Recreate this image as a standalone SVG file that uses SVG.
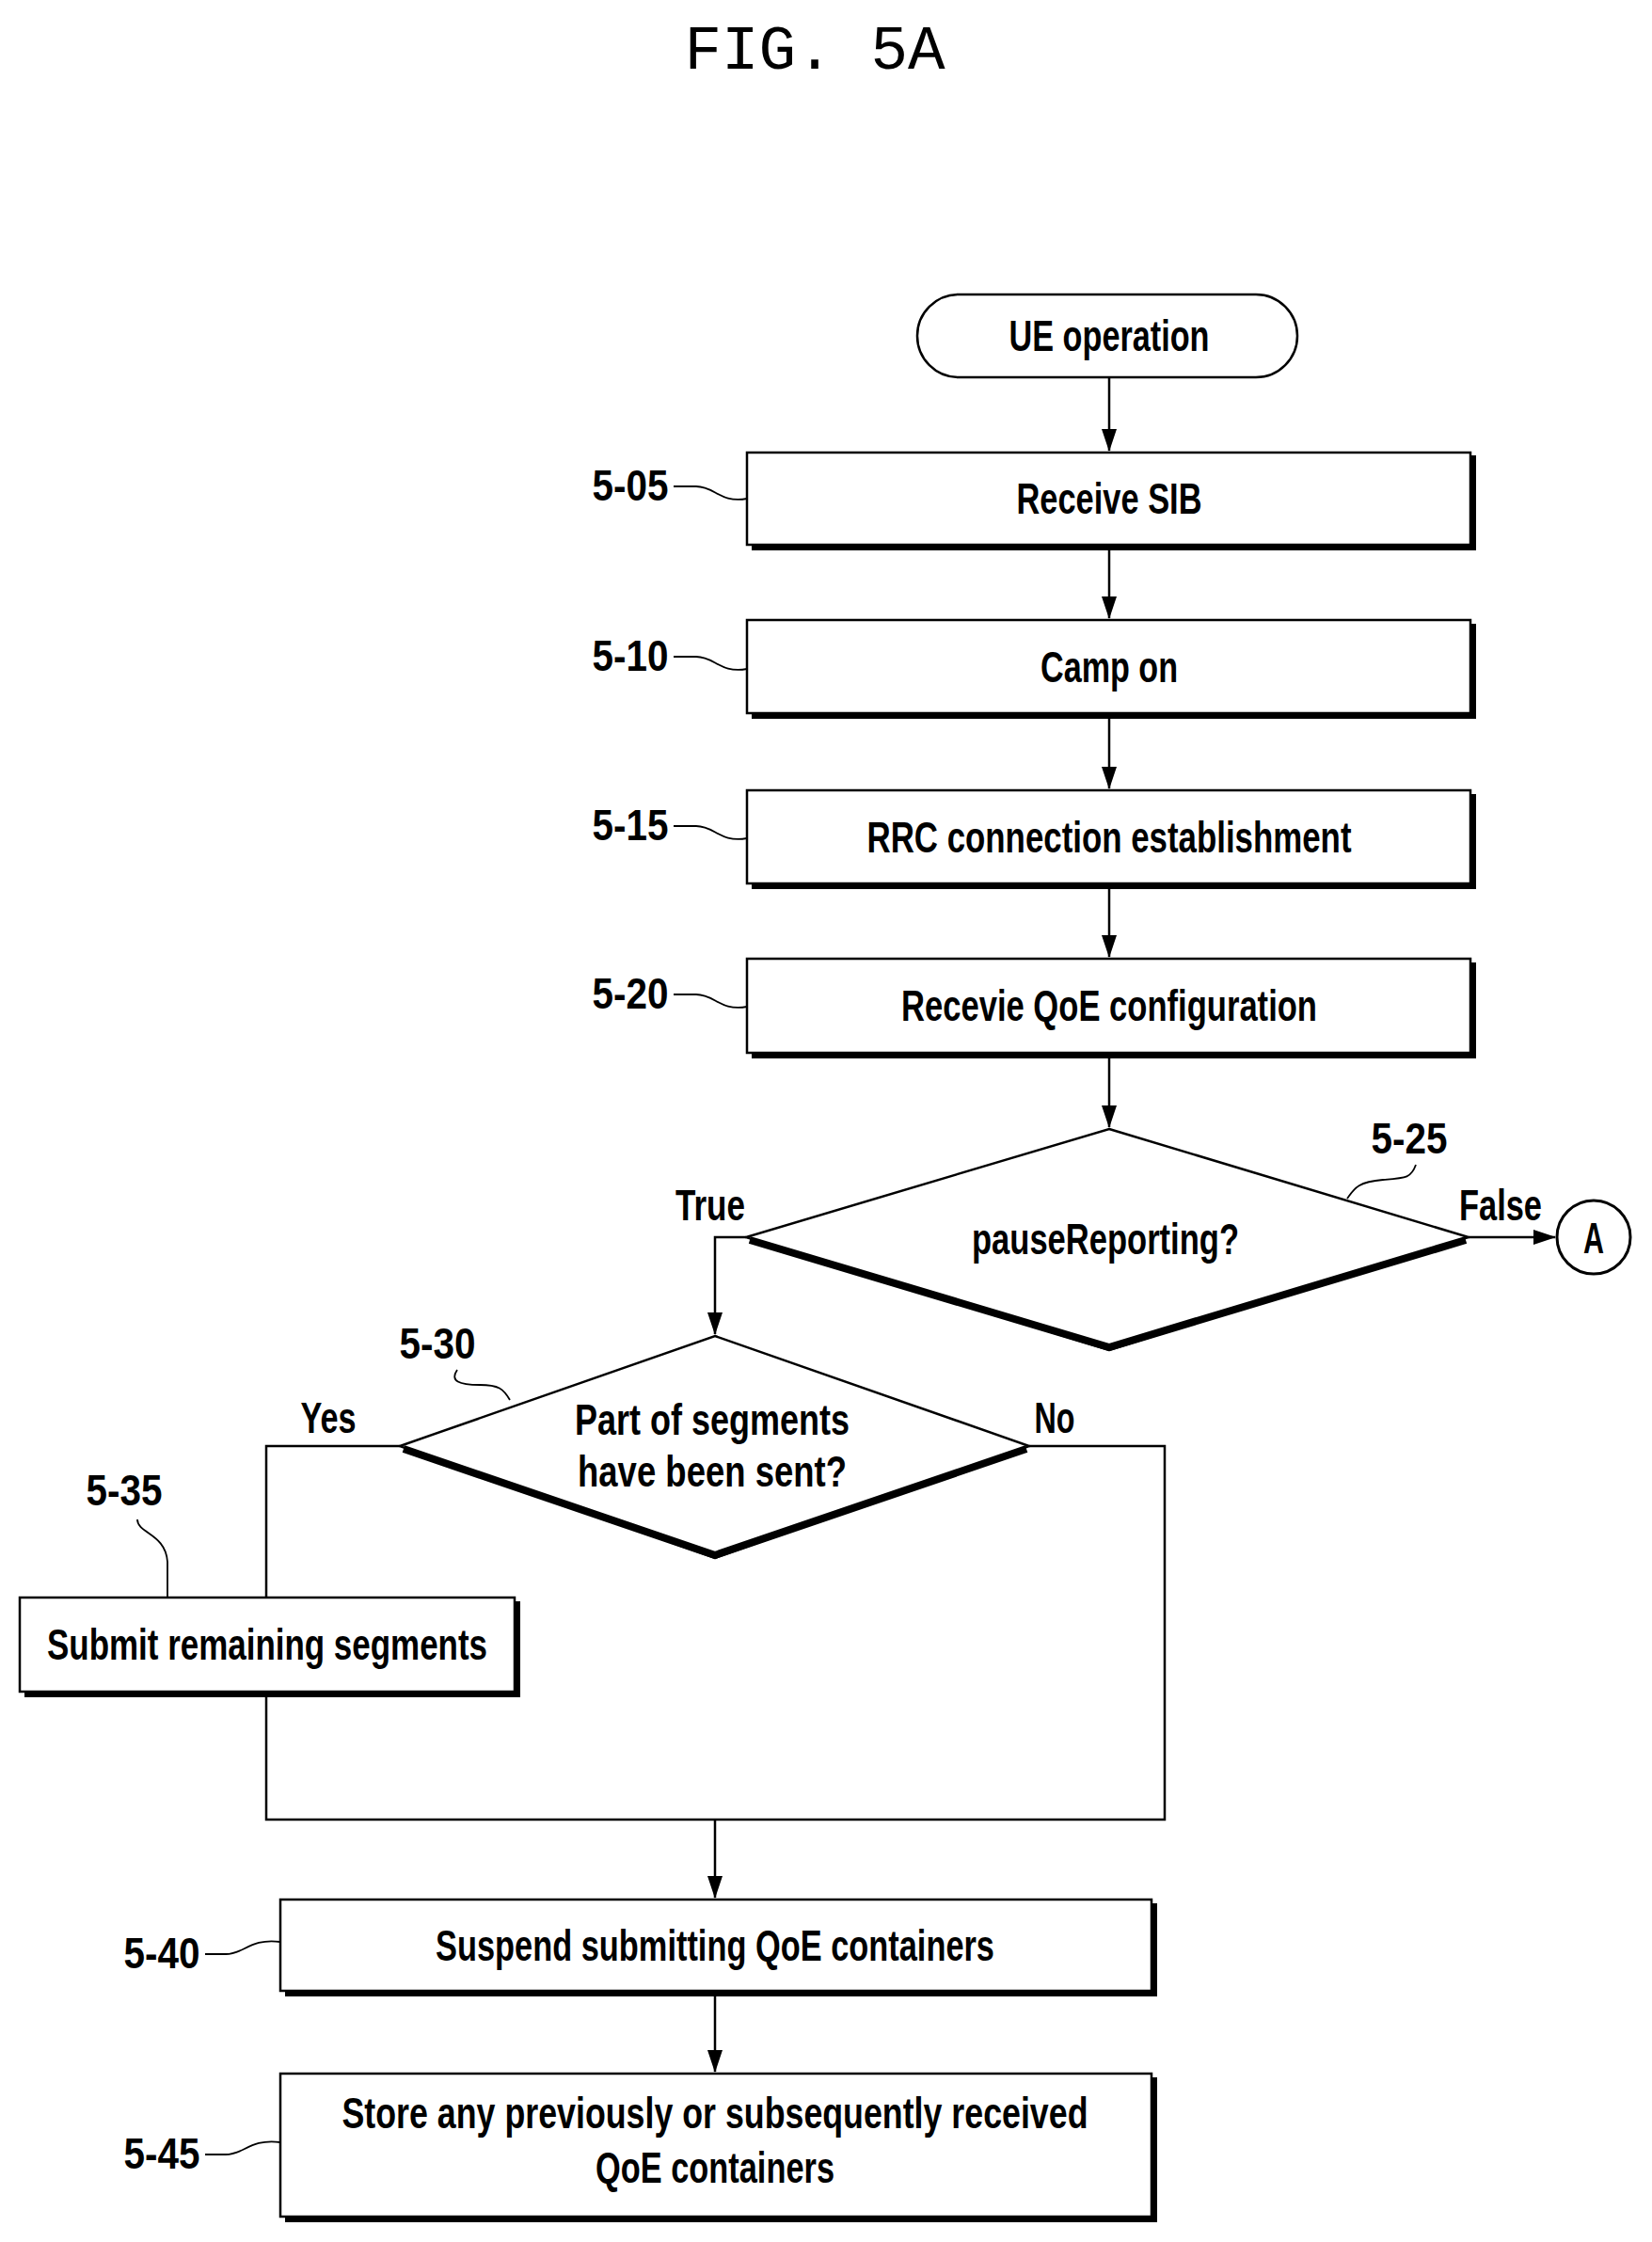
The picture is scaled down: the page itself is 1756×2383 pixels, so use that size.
<svg xmlns="http://www.w3.org/2000/svg" width="1756" height="2383" viewBox="0 0 1756 2383">
<defs>
<marker id="ah" markerWidth="24" markerHeight="16" refX="23" refY="8" orient="auto" markerUnits="userSpaceOnUse" viewBox="0 0 24 16"><path d="M0,0 L24,8 L0,16 z" fill="#000"/></marker>
<style>
.t{font-family:"Liberation Sans",Arial,sans-serif;font-weight:bold;font-size:46px;text-anchor:middle;fill:#000}
.lb{font-family:"Liberation Sans",Arial,sans-serif;font-weight:bold;font-size:46px;text-anchor:middle;fill:#000}
.b{fill:#fff;stroke:#000;stroke-width:2.5}
.sh{fill:none;stroke:#000;stroke-width:6}
.ln{fill:none;stroke:#000;stroke-width:2.5}
.ld{fill:none;stroke:#000;stroke-width:1.8}
</style>
</defs>
<rect width="1756" height="2383" fill="#fff"/>
<text x="866" y="73" style="font-family:'Liberation Mono',monospace;font-size:66px;text-anchor:middle">FIG. 5A</text>

<g id="connectors">
<line class="ln" x1="1179" y1="401" x2="1179" y2="479" marker-end="url(#ah)"/>
<line class="ln" x1="1179" y1="582" x2="1179" y2="657" marker-end="url(#ah)"/>
<line class="ln" x1="1179" y1="761" x2="1179" y2="838" marker-end="url(#ah)"/>
<line class="ln" x1="1179" y1="942" x2="1179" y2="1017" marker-end="url(#ah)"/>
<line class="ln" x1="1179" y1="1122" x2="1179" y2="1198" marker-end="url(#ah)"/>
<line class="ln" x1="1561" y1="1315" x2="1653" y2="1315" marker-end="url(#ah)"/>
<polyline class="ln" points="793,1315 760,1315 760,1418" marker-end="url(#ah)"/>
<polyline class="ln" points="425,1537 283,1537 283,1698"/>
<polyline class="ln" points="283,1801 283,1934 1238,1934 1238,1537 1094,1537"/>
<line class="ln" x1="760" y1="1934" x2="760" y2="2017" marker-end="url(#ah)"/>
<line class="ln" x1="760" y1="2119" x2="760" y2="2202" marker-end="url(#ah)"/>
<text class="lb" x="755" y="1297" textLength="74" lengthAdjust="spacingAndGlyphs">True</text>
<text class="lb" x="1595" y="1297" textLength="88" lengthAdjust="spacingAndGlyphs">False</text>
<text class="lb" x="349" y="1523" textLength="59" lengthAdjust="spacingAndGlyphs">Yes</text>
<text class="lb" x="1121" y="1523" textLength="43" lengthAdjust="spacingAndGlyphs">No</text>
</g>

<g id="start">
<rect class="b" x="975" y="313" width="404" height="88" rx="44" stroke-width="3.5"/>
<text class="t" x="1179" y="373" textLength="213" lengthAdjust="spacingAndGlyphs">UE operation</text>
</g>

<g id="n505">
<polyline class="sh" points="799,582 1566,582 1566,484"/>
<rect class="b" x="794" y="481" width="769" height="98"/>
<text class="t" x="1179" y="546" textLength="197" lengthAdjust="spacingAndGlyphs">Receive SIB</text>
<text class="lb" x="670" y="532" textLength="81" lengthAdjust="spacingAndGlyphs">5-05</text>
<path class="ld" d="M716,517 L740,517 C760,517 765,535 794,530"/>
</g>

<g id="n510">
<polyline class="sh" points="799,761 1566,761 1566,663"/>
<rect class="b" x="794" y="659" width="769" height="99"/>
<text class="t" x="1179" y="725" textLength="146" lengthAdjust="spacingAndGlyphs">Camp on</text>
<text class="lb" x="670" y="713" textLength="81" lengthAdjust="spacingAndGlyphs">5-10</text>
<path class="ld" d="M716,698 L740,698 C760,698 765,716 794,711"/>
</g>

<g id="n515">
<polyline class="sh" points="799,942 1566,942 1566,844"/>
<rect class="b" x="794" y="840" width="769" height="99"/>
<text class="t" x="1179" y="906" textLength="515" lengthAdjust="spacingAndGlyphs">RRC connection establishment</text>
<text class="lb" x="670" y="893" textLength="81" lengthAdjust="spacingAndGlyphs">5-15</text>
<path class="ld" d="M716,878 L740,878 C760,878 765,896 794,891"/>
</g>

<g id="n520">
<polyline class="sh" points="799,1122 1566,1122 1566,1023"/>
<rect class="b" x="794" y="1019" width="769" height="100"/>
<text class="t" x="1179" y="1085" textLength="442" lengthAdjust="spacingAndGlyphs">Recevie QoE configuration</text>
<text class="lb" x="670" y="1072" textLength="81" lengthAdjust="spacingAndGlyphs">5-20</text>
<path class="ld" d="M716,1057 L740,1057 C760,1057 765,1075 794,1070"/>
</g>

<g id="n525">
<polygon class="b" points="1179,1200 1561,1315 1179,1435 793,1315"/>
<polyline fill="none" stroke="#000" stroke-width="8" points="797,1318 1179,1432 1558,1318"/>
<text class="t" x="1175" y="1333" textLength="284" lengthAdjust="spacingAndGlyphs">pauseReporting?</text>
<text class="lb" x="1498" y="1226" textLength="81" lengthAdjust="spacingAndGlyphs">5-25</text>
<path class="ld" d="M1505,1238 C1500,1252 1495,1252 1470,1254 C1445,1256 1440,1262 1432,1274"/>
</g>

<g id="connA">
<circle cx="1694" cy="1315" r="39" fill="#fff" stroke="#000" stroke-width="3"/>
<text class="t" x="1694" y="1332" font-size="40" textLength="22" lengthAdjust="spacingAndGlyphs">A</text>
</g>

<g id="n530">
<polygon class="b" points="760,1420 1094,1537 760,1656 425,1537"/>
<polyline fill="none" stroke="#000" stroke-width="8" points="429,1540 760,1653 1091,1540"/>
<text class="t" x="757" y="1525" textLength="292" lengthAdjust="spacingAndGlyphs">Part of segments</text>
<text class="t" x="757" y="1580" textLength="286" lengthAdjust="spacingAndGlyphs">have been sent?</text>
<text class="lb" x="465" y="1444" textLength="81" lengthAdjust="spacingAndGlyphs">5-30</text>
<path class="ld" d="M486,1456 C478,1468 488,1472 510,1472 C530,1472 535,1476 542,1488"/>
</g>

<g id="n535">
<polyline class="sh" points="26,1801 550,1801 550,1702"/>
<rect class="b" x="21" y="1698" width="526" height="100"/>
<text class="t" x="284" y="1764" textLength="468" lengthAdjust="spacingAndGlyphs">Submit remaining segments</text>
<text class="lb" x="132" y="1600" textLength="81" lengthAdjust="spacingAndGlyphs">5-35</text>
<path class="ld" d="M146,1615 C146,1630 176,1630 178,1660 L178,1698"/>
</g>

<g id="n540">
<polyline class="sh" points="303,2119 1227,2119 1227,2023"/>
<rect class="b" x="298" y="2019" width="926" height="97"/>
<text class="t" x="760" y="2084" textLength="594" lengthAdjust="spacingAndGlyphs">Suspend submitting QoE containers</text>
<text class="lb" x="172" y="2092" textLength="81" lengthAdjust="spacingAndGlyphs">5-40</text>
<path class="ld" d="M218,2077 L240,2077 C260,2077 265,2060 298,2064"/>
</g>

<g id="n545">
<polyline class="sh" points="303,2359 1227,2359 1227,2208"/>
<rect class="b" x="298" y="2204" width="926" height="152"/>
<text class="t" x="760" y="2262" textLength="793" lengthAdjust="spacingAndGlyphs">Store any previously or subsequently received</text>
<text class="t" x="760" y="2320" textLength="254" lengthAdjust="spacingAndGlyphs">QoE containers</text>
<text class="lb" x="172" y="2305" textLength="81" lengthAdjust="spacingAndGlyphs">5-45</text>
<path class="ld" d="M218,2290 L240,2290 C260,2290 265,2273 298,2277"/>
</g>
</svg>
